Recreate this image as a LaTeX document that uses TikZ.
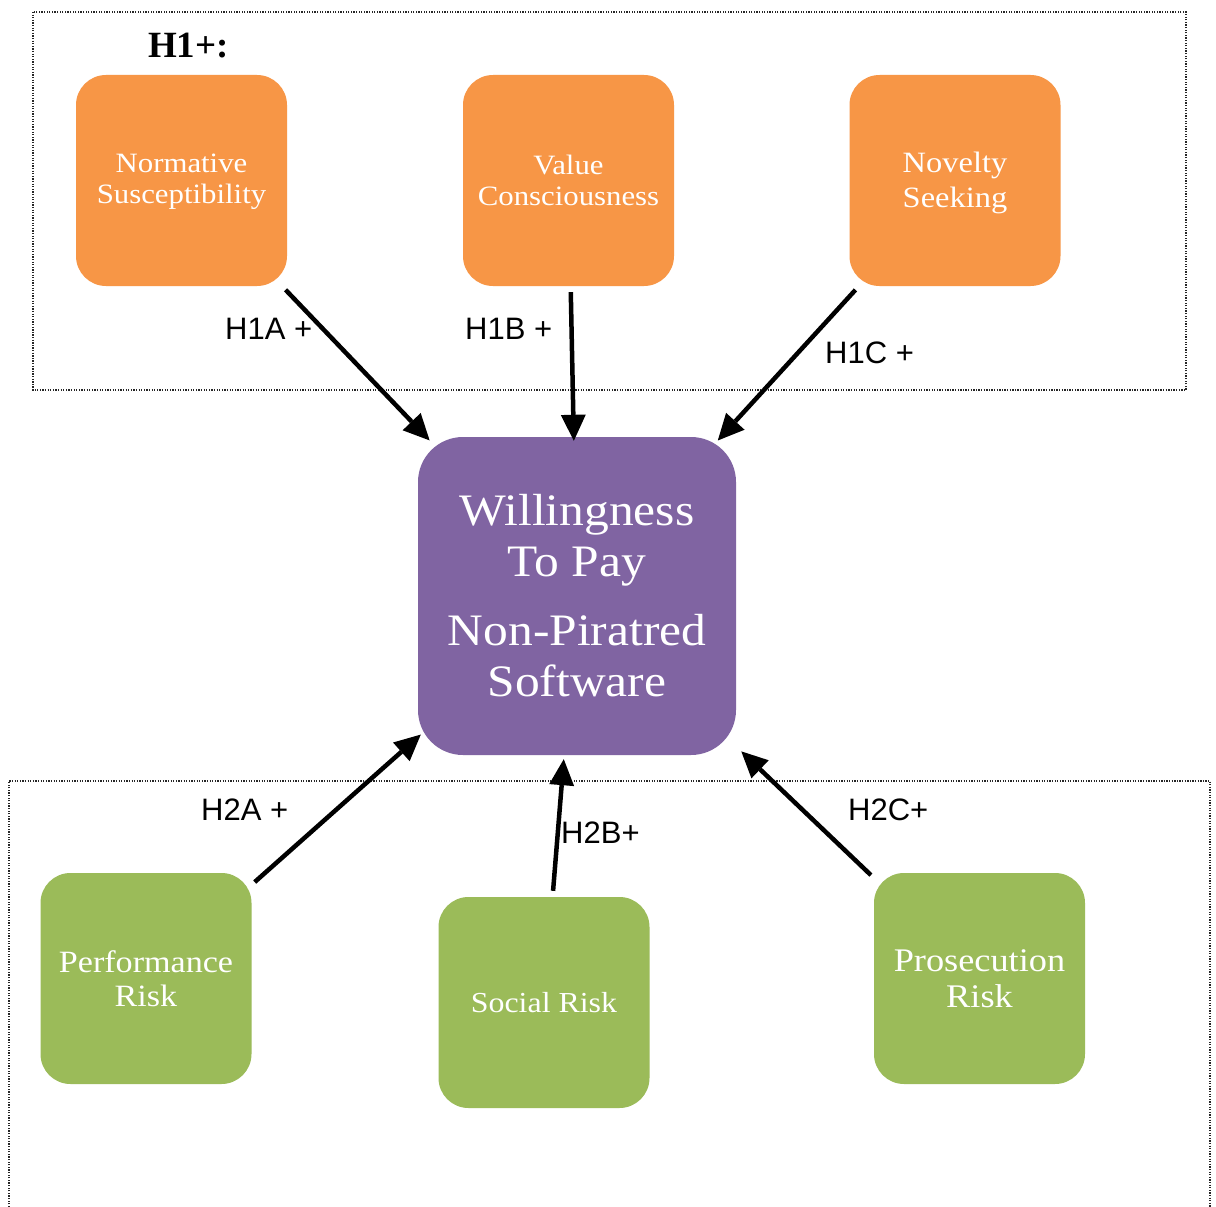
\documentclass[tikz,border=0pt]{standalone}
\usepackage{fontspec}
\setmainfont{Liberation Serif}
\newfontfamily\boxfont[FakeStretch=1.1]{Liberation Serif}
\newfontfamily\labfont{Liberation Sans}
\usetikzlibrary{arrows.meta}
\definecolor{orangeF}{HTML}{F79646}
\definecolor{purpleF}{HTML}{8064A2}
\definecolor{greenF}{HTML}{9BBB59}
\begin{document}
\begin{tikzpicture}[x=1pt,y=-1pt,
  box/.style={rounded corners=30pt, minimum width=211pt, minimum height=211pt, inner sep=0pt, text=white, align=center},
  obox/.style={box, fill=orangeF},
  gbox/.style={box, fill=greenF},
  conn/.style={line width=4.5pt, -{Triangle[length=26pt,width=25pt,line width=0pt]}},
  lab/.style={font=\labfont\fontsize{31}{36}\selectfont, anchor=base west, inner sep=0pt},
  frame/.style={line width=1.3pt, dash pattern=on 1.3pt off 1.3pt, black!85}
]
\useasboundingbox[fill=white] (0,0) rectangle (1216,1207);

\draw[frame] (33,12) rectangle (1186,390);
\draw[frame] (9,1207) -- (9,781) -- (1210,781) -- (1210,1207);

\node[font=\bfseries\fontsize{37}{40}\selectfont, anchor=base west, inner sep=0pt] (h1) at (148,58) {H1+:};

\node[obox, font=\boxfont\fontsize{28}{31}\selectfont] (ns) at (181.5,180.5) {\rule{0pt}{22pt}Normative\\Susceptibility};
\node[obox, font=\boxfont\fontsize{28}{31}\selectfont] (vc) at (568.5,180.5) {Value\\Consciousness};
\node[obox, font=\boxfont\fontsize{29.5}{35}\selectfont] (nov) at (955,180.5) {\rule{0pt}{26pt}Novelty\\Seeking};

\node[fill=purpleF, rounded corners=45pt, minimum width=318pt, minimum height=318pt, inner sep=0pt, text=white, align=center, font=\boxfont\fontsize{45}{51}\selectfont] (wtp) at (577,596) {Willingness\\To Pay\\[18pt]Non-Piratred\\Software};

\node[gbox, font=\boxfont\fontsize{31}{34}\selectfont] (pr) at (146,978.5) {Performance\\Risk};
\node[gbox, font=\boxfont\fontsize{29}{34}\selectfont] (sr) at (544,1002.5) {Social Risk};
\node[gbox, font=\boxfont\fontsize{33}{36}\selectfont] (pk) at (979.5,978.5) {Prosecution\\Risk};

\draw[conn, shorten <=5pt, shorten >=-5pt] (ns) -- (wtp);
\draw[conn, shorten <=6pt, shorten >=-4pt] (vc) -- (wtp);
\draw[conn, shorten <=5pt, shorten >=-5pt] (nov) -- (wtp);
\draw[conn, shorten <=4pt, shorten >=-4pt] (pr) -- (wtp);
\draw[conn, shorten <=6pt, shorten >=4pt] (sr) -- (wtp);
\draw[conn, shorten <=4pt, shorten >=7pt] (pk) -- (wtp);

\node[lab] (l1a) at (225,339) {H1A +};
\node[lab] (l1b) at (465,339) {H1B +};
\node[lab] (l1c) at (825,363) {H1C +};
\node[lab] (l2a) at (201,820) {H2A +};
\node[lab] (l2b) at (561,843) {H2B+};
\node[lab] (l2c) at (848,820) {H2C+};
\end{tikzpicture}
\end{document}
